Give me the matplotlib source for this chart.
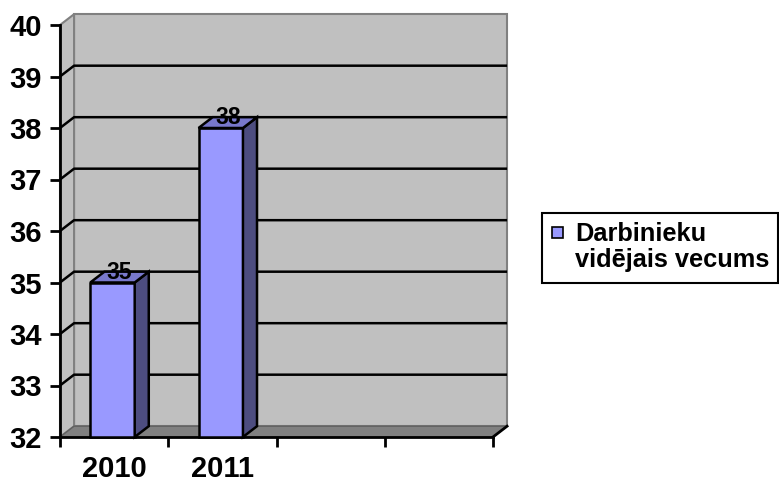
import matplotlib

matplotlib.use("Agg")
import matplotlib.pyplot as plt
from matplotlib.patches import Polygon, Rectangle

# dati
years = ["2010", "2011", "", ""]
ages = [35, 38]
y_ticks = [32, 33, 34, 35, 36, 37, 38, 39, 40]
series_name = "Darbinieku\nvidējais vecums"

W, H = 779, 484
plt.rcParams["font.family"] = ["Liberation Sans", "DejaVu Sans"]
plt.rcParams["font.weight"] = "bold"

fig = plt.figure(figsize=(W / 100, H / 100), dpi=100)
ax = fig.add_axes([60 / W, (H - 437) / H, 433 / W, 412 / H])
n = len(years)
lo, hi = y_ticks[0], y_ticks[-1]
ax.set_xlim(0, n)
ax.set_ylim(lo, hi)
ax.patch.set_visible(False)

# 3D dziļuma nobīde datu vienībās
dx, dy = 0.13, 0.21
WALL, FLOOR, GRAY = "#c0c0c0", "#808080", "#808080"

# sienas un grīda
ax.add_patch(Polygon([(dx, lo + dy), (n + dx, lo + dy), (n + dx, hi + dy), (dx, hi + dy)],
                     closed=True, facecolor=WALL, edgecolor=GRAY, lw=1.5, clip_on=False, zorder=0))
ax.add_patch(Polygon([(0, lo), (dx, lo + dy), (dx, hi + dy), (0, hi)],
                     closed=True, facecolor=WALL, edgecolor=GRAY, lw=1.5, clip_on=False, zorder=0))
ax.add_patch(Polygon([(0, lo), (n, lo), (n + dx, lo + dy), (dx, lo + dy)],
                     closed=True, facecolor=FLOOR, edgecolor="#606060", lw=1, clip_on=False, zorder=0.5))

# režģa līnijas
for v in y_ticks[1:-1]:
    ax.plot([0, dx, n + dx], [v, v + dy, v + dy], color="black", lw=1.8,
            clip_on=False, zorder=1, solid_capstyle="butt")
ax.plot([n, n + dx], [lo, lo + dy], color="black", lw=2, clip_on=False, zorder=1)

# stabiņi
w = 0.41
xs = [i + 0.485 for i in range(len(ages))]
ax.bar(xs, [a - lo for a in ages], width=w, bottom=lo, color="#9999ff",
       edgecolor="black", lw=1.8, zorder=3, clip_on=False)
for x, v in zip(xs, ages):
    r, l = x + w / 2, x - w / 2
    ax.add_patch(Polygon([(r, lo), (r + dx, lo + dy), (r + dx, v + dy), (r, v)],
                         closed=True, facecolor="#4d4d80", edgecolor="black", lw=1.8,
                         zorder=3, clip_on=False))
    ax.add_patch(Polygon([(l, v), (r, v), (r + dx, v + dy), (l + dx, v + dy)],
                         closed=True, facecolor="#7878cc", edgecolor="black", lw=1.8,
                         zorder=3, clip_on=False))
    ax.text(x + dx / 2, v + dy / 2 - 0.03, f"{v}", ha="center", va="baseline",
            fontsize=16.5, fontweight="bold", zorder=4)

# asis
for s in ("top", "right"):
    ax.spines[s].set_visible(False)
ax.spines["left"].set_linewidth(2)
ax.spines["bottom"].set_linewidth(2)
ax.spines["left"].set_zorder(2)
ax.spines["bottom"].set_zorder(2)
ax.set_yticks(y_ticks)
ax.set_yticklabels([str(t) for t in y_ticks], fontsize=21, fontweight="bold")
ax.tick_params(axis="y", length=7, width=2, pad=6)
ax.set_xticks(range(n + 1))
ax.set_xticklabels([""] * (n + 1))
ax.set_xticks([i + 0.5 for i in range(n)], minor=True)
ax.set_xticklabels(years, minor=True, fontsize=21, fontweight="bold")
ax.tick_params(axis="x", which="major", length=7, width=2)
ax.tick_params(axis="x", which="minor", length=0, pad=13)

# leģenda
fig.patches.append(Rectangle((542 / W, 1 - 283 / H), 236 / W, 70 / H, transform=fig.transFigure,
                             facecolor="white", edgecolor="black", lw=1.5))
fig.patches.append(Rectangle((552 / W, 1 - 238 / H), 11 / W, 11 / H, transform=fig.transFigure,
                             facecolor="#9999ff", edgecolor="black", lw=1.2))
fig.text(575 / W, 1 - 222 / H, series_name, ha="left", va="top", fontsize=18.3,
         fontweight="bold", linespacing=1.1)

fig.savefig("out.png", dpi=100)
